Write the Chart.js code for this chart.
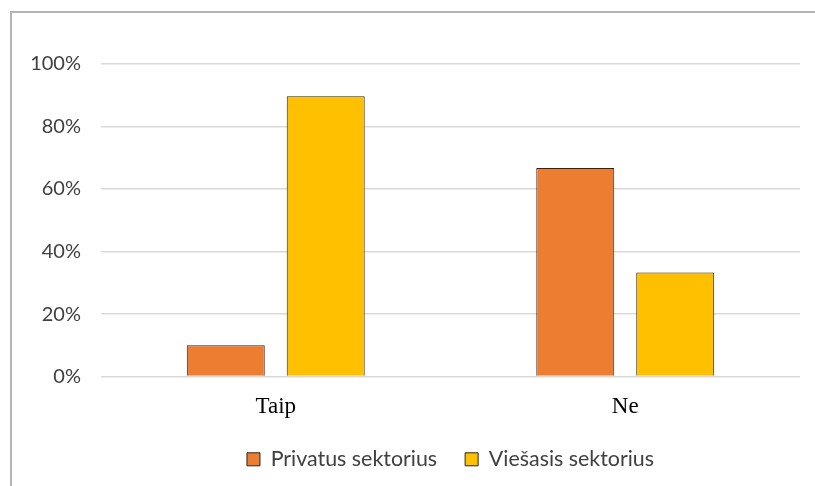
<!DOCTYPE html>
<html>
<head>
<meta charset="utf-8">
<script src="https://cdn.jsdelivr.net/npm/chart.js@4"></script>
<style>
    body { margin: 0; background: #fff; }
    #wrap { position: relative; width: 815px; height: 486px; }
    #frame {
        position: absolute; left: 10px; top: 11px; width: 820px; height: 490px;
        border-left: 2px solid #b4b4b4; border-top: 2px solid #b4b4b4;
    }
    canvas { position: absolute; left: 0; top: 0; }
</style>
</head>
<body>
<div id="wrap">
    <div id="frame"></div>
    <canvas id="chart" width="815" height="486"></canvas>
</div>
<script>
// ===== DATA =====
const categories = ['Taip', 'Ne'];
const privatusValues = [10, 66.7];
const viesasisValues = [89.7, 33.3];
const seriesNames = ['Privatus sektorius', 'Viešasis sektorius'];

// ===== CHART =====
const ctx = document.getElementById('chart');
const chart = new Chart(ctx, {
    type: 'bar',
    data: {
        labels: categories,
        datasets: [{
            label: seriesNames[0],
            data: privatusValues,
            backgroundColor: '#ED7D31',
            borderColor: '#262626',
            borderWidth: 1,
            categoryPercentage: 0.572,
            barPercentage: 0.78
        }, {
            label: seriesNames[1],
            data: viesasisValues,
            backgroundColor: '#FFC000',
            borderColor: '#262626',
            borderWidth: 1,
            categoryPercentage: 0.572,
            barPercentage: 0.78
        }]
    },
    options: {
        responsive: false,
        animation: false,
        layout: {
            padding: { left: 0, right: 15, top: 64, bottom: 6 }
        },
        plugins: {
            tooltip: { enabled: false },
            legend: {
                position: 'bottom',
                fullSize: false,
                labels: {
                    boxWidth: 13,
                    boxHeight: 13,
                    padding: 28,
                    color: '#404040',
                    font: { family: 'Lato', size: 21.4 }
                }
            }
        },
        scales: {
            x: {
                grid: { display: false },
                border: { display: false },
                ticks: {
                    color: '#000',
                    padding: 9,
                    font: { family: 'Liberation Serif', size: 23 }
                },
                afterFit: (scale) => { scale.height = 44; }
            },
            y: {
                min: 0,
                max: 100,
                grid: { color: '#d9d9d9', lineWidth: 1.5, drawTicks: false },
                border: { display: false },
                ticks: {
                    stepSize: 20,
                    padding: 20,
                    color: '#404040',
                    font: { family: 'Lato', size: 20 },
                    callback: (v) => v + '%'
                },
                afterFit: (scale) => { scale.width = 101; }
            }
        }
    }
});
</script>
</body>
</html>
